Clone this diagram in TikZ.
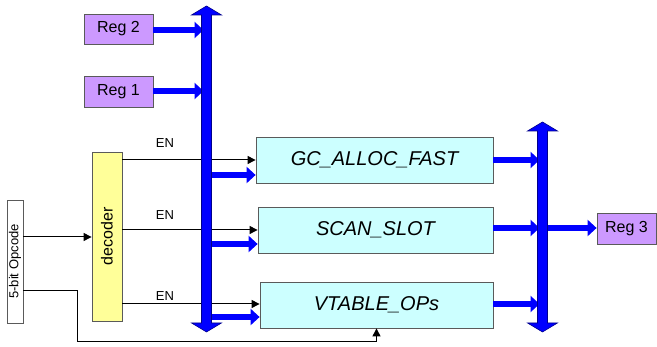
\documentclass[tikz,border=0pt]{standalone}
\usepackage{fontspec}
\setmainfont{Liberation Sans}
\usetikzlibrary{arrows.meta,calc}
\definecolor{regfill}{RGB}{204,153,255}
\definecolor{decfill}{RGB}{255,255,153}
\definecolor{unitfill}{RGB}{204,255,255}
\definecolor{busblue}{RGB}{0,0,255}
\definecolor{busedge}{RGB}{0,0,140}
\definecolor{boxedge}{RGB}{90,90,90}
\tikzset{
  regbox/.style={draw=boxedge,fill=regfill,line width=0.8pt,inner sep=0pt,
    font=\fontsize{16}{18}\selectfont},
  unitbox/.style={draw=boxedge,fill=unitfill,line width=0.8pt,inner sep=0pt,
    font=\fontsize{20}{22}\selectfont\itshape},
  decbox/.style={draw=boxedge,fill=decfill,line width=0.8pt,inner sep=0pt},
  opbox/.style={draw=boxedge,fill=white,line width=0.8pt,inner sep=0pt},
  sig/.style={black,line width=1pt,-{Triangle[length=8pt,width=8pt]}},
  fat/.style={busblue,line width=6pt,-{Triangle[length=9pt,width=16pt]}},
  bus/.style={fill=busblue,draw=busedge,line width=0.6pt},
  enlab/.style={font=\fontsize{13}{14}\selectfont,inner sep=0pt}
}
\begin{document}
\begin{tikzpicture}[x=1pt,y=-1pt]
\useasboundingbox (0,0) rectangle (657,347);
% nodes
\node[regbox,minimum width=69pt,minimum height=30pt] (reg2) at (118.5,29) {Reg 2};
\node[regbox,minimum width=69pt,minimum height=31pt] (reg1) at (118.5,91.5) {Reg 1};
\node[decbox,minimum width=30pt,minimum height=169pt] (dec) at (107,236.5) {};
\node[rotate=90,font=\fontsize{16}{18}\selectfont] (dectxt) at (dec.center) {decoder};
\node[opbox,minimum width=16pt,minimum height=123pt] (op) at (15,261.5) {};
\node[rotate=90,font=\fontsize{13}{15}\selectfont] (optxt) at (op.center) {5-bit Opcode};
\node[unitbox,minimum width=237pt,minimum height=46pt] (gc) at (374.5,160) {GC\_ALLOC\_FAST};
\node[unitbox,minimum width=235pt,minimum height=46pt] (sc) at (375.5,230) {SCAN\_SLOT};
\node[unitbox,minimum width=233pt,minimum height=46pt] (vt) at (376.5,305) {VTABLE\_OPs};
\node[regbox,minimum width=59pt,minimum height=31pt] (reg3) at (626.5,228.5) {Reg 3};
\coordinate (lbus) at (206.5,170);
\coordinate (rbus) at (542.5,228);
% EN labels
\node[enlab] (en1) at (165,143) {EN};
\node[enlab] (en2) at (165,215) {EN};
\node[enlab] (en3) at (165,296) {EN};
% thin signals
\coordinate (o1) at ($(op.east)+(0,-24.5)$);
\draw[sig] (o1) -- (o1 -| dec.west);
\draw[sig] ($(op.east)+(0,29.5)$) -- ++(54,0) -- ++(0,51) -| (vt.south);
\draw[sig] (dec.east |- gc.west) -- (gc.west);
\draw[sig] (dec.east |- sc.west) -- (sc.west);
\draw[sig] ($(dec.east |- vt.west)+(0,-1)$) -- ($(vt.west)+(0,-1)$);
% fat arrows
\coordinate (r2) at ($(reg2.east)+(0,1)$);
\coordinate (r1) at ($(reg1.east)+(0,-0.5)$);
\draw[fat] (r2) -- ($(r2 -| lbus)+(-3,0)$);
\draw[fat] (r1) -- ($(r1 -| lbus)+(-3,0)$);
\draw[fat] ($(gc.west -| lbus)+(0,15)$) -- ($(gc.west)+(0,15)$);
\draw[fat] ($(sc.west -| lbus)+(0,14)$) -- ($(sc.west)+(0,14)$);
\draw[fat] ($(vt.west -| lbus)+(0,12)$) -- ($(vt.west)+(0,12)$);
\draw[fat] (gc.east) -- ($(gc.east -| rbus)+(-3,0)$);
\draw[fat] ($(sc.east)+(0,-2)$) -- ($(sc.east -| rbus)+(-3,-2)$);
\draw[fat] ($(vt.east)+(0,-1)$) -- ($(vt.east -| rbus)+(-3,-1)$);
\draw[fat] ($(rbus)+(5,0)$) -- ($(reg3.west)+(0,-0.5)$);
% buses
\draw[bus] (201.5,15) -- (191.5,15) -- (206.5,6) -- (221.5,15) -- (211.5,15)
  -- (211.5,323) -- (221.5,323) -- (206.5,332) -- (191.5,323) -- (201.5,323) -- cycle;
\draw[bus] (537.5,131) -- (527.5,131) -- (542.5,122) -- (557.5,131) -- (547.5,131)
  -- (547.5,323) -- (557.5,323) -- (542.5,332) -- (527.5,323) -- (537.5,323) -- cycle;
\end{tikzpicture}
\end{document}
